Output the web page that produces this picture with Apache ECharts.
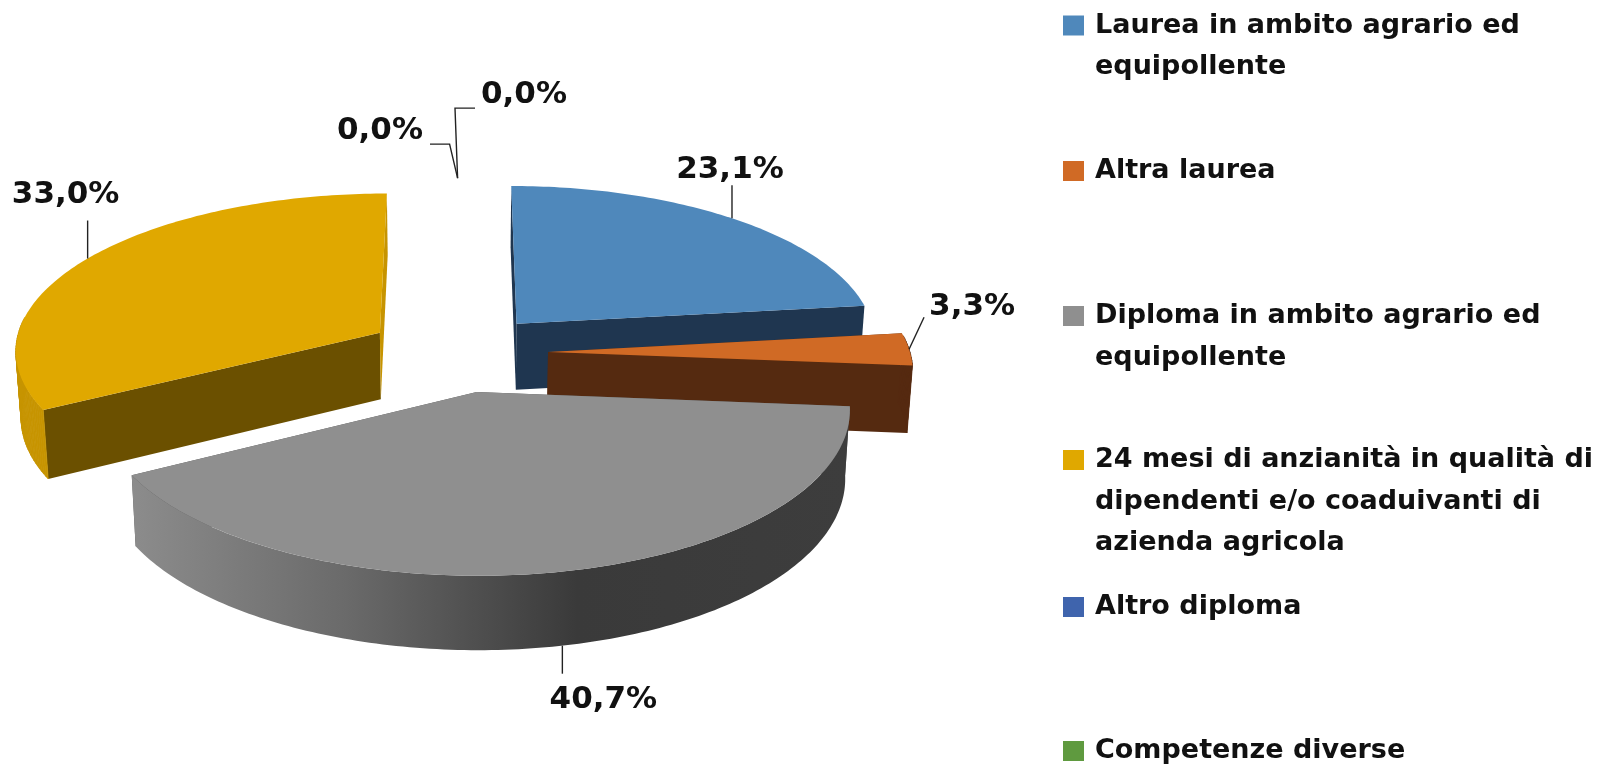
<!DOCTYPE html>
<html><head><meta charset="utf-8"><style>html,body{margin:0;padding:0;background:#fff}#c{width:1598px;height:766px}</style>
<script src="https://cdn.jsdelivr.net/npm/echarts@6/dist/echarts.min.js"></script></head>
<body><div id="c"></div>
<script>
const categories = ['Laurea in ambito agrario ed\nequipollente','Altra laurea','Diploma in ambito agrario ed\nequipollente','24 mesi di anzianità in qualità di\ndipendenti e/o coaduivanti di\nazienda agricola','Altro diploma','Competenze diverse'];
const values = [23.1,3.3,40.7,33.0,0.0,0.0];
const valueLabels = ['23,1%','3,3%','40,7%','33,0%','0,0%','0,0%'];
const topColors = ['#4f88bb','#d06a25','#8f8f8f','#e0a800','#3f64ad','#5f9a3f'];
const cutStartColors = ['#1f3650','#552a10','#555555','#6b5000','#223344','#223322'];
const cutEndColors = ['#1f3650','#552a10','#555555','#c79400','#223344','#223322'];
const wallColors = ['#3d6f9c','#552a10','#555555','#c79400','#334455','#335533'];
const drawOrder = [4,5,3,0,1,2];
const cx=457.6, cy=352.6, rx=362, rxLeft=366, ry=157, k=0.1, kDepth=0.08, depth=67, explode=0.25;
const total = values.reduce((a,b)=>a+b,0);
function project(X,Z,d){
  const w=1+k*Z, s=1-0.012*d;
  return [cx+(X<0?rxLeft:rx)*X/w*s, cy-ry*Z/w+depth*d/(1+kDepth*Z)];
}
const labelOff = [ // anchor depth, leader offsets, label centre offset
 {d:0,p:[[0,-33]],t:[-2,-48]},
 {d:0,p:[[15,-32]],t:[63,-42]},
 {d:1,p:[[0,28]],t:[41,54]},
 {d:0,p:[[0,-38]],t:[-22,-64]},
 {d:0,p:[[-8,-34],[-27.6,-34]],t:[-77.6,-47]},
 {d:0,p:[[-2.6,-70],[17.4,-70]],t:[66.4,-83]}
];
const acc=[];let s0=0;values.forEach(v=>{acc.push(s0);s0+=v;});
function renderSlice(i){return function(params,api){
 const a0=acc[i]/total*2*Math.PI,a1=(acc[i]+values[i])/total*2*Math.PI,m=(a0+a1)/2;
 const ex=explode*Math.sin(m),ez=explode*Math.cos(m);
 const P=(a,d)=>project(ex+Math.sin(a),ez+Math.cos(a),d);const tip=d=>project(ex,ez,d);
 const kids=[];
 if(values[i]>0){
  const n=Math.max(6,Math.round((a1-a0)*60));
  const arcT=[],arcB=[];
  for(let j=0;j<=n;j++){const a=a0+(a1-a0)*j/n;arcT.push(P(a,0));arcB.unshift(P(a,1));}
  kids.push({type:'polygon',shape:{points:[tip(0),P(a0,0),P(a0,1),tip(1)]},style:{fill:cutStartColors[i]}});
  kids.push({type:'polygon',shape:{points:[tip(0),P(a1,0),P(a1,1),tip(1)]},style:{fill:cutEndColors[i]}});
  if(i===2){
    kids.push({type:'polygon',shape:{points:arcT.concat(arcB)},style:{fill:new echarts.graphic.LinearGradient(0,0,1,0,[{offset:0,color:'#8c8c8c'},{offset:0.3,color:'#6a6a6a'},{offset:0.62,color:'#3a3a3a'},{offset:1,color:'#3d3d3d'}])}});
  } else {
    for(let j=0;j<n;j++){
      const b0=a0+(a1-a0)*j/n,b1=a0+(a1-a0)*(j+1)/n;
      if(Math.cos((b0+b1)/2)>0.1) continue;
      kids.push({type:'polygon',shape:{points:[P(b0,0),P(b1,0),P(b1,1),P(b0,1)]},style:{fill:wallColors[i],stroke:wallColors[i],lineWidth:0.8}});
    }
  }
  kids.push({type:'polygon',shape:{points:[tip(0)].concat(arcT)},style:{fill:topColors[i]}});
 }
 const L=labelOff[i];const A=project(ex+Math.sin(m),ez+Math.cos(m),L.d);
 const pts=[A].concat(L.p.map(o=>[A[0]+o[0],A[1]+o[1]]));
 kids.push({type:'polyline',shape:{points:pts},style:{stroke:'#222',lineWidth:1.4,fill:null}});
 kids.push({type:'text',style:{text:valueLabels[i],x:A[0]+L.t[0],y:A[1]+L.t[1],align:'center',verticalAlign:'middle',font:'bold 31px "DejaVu Sans"',fill:'#111'}});
 return {type:'group',children:kids};
};}
const legendY=[25.5,171,316,460,607,751];
const padded=i=>{const n=categories[i].split('\n').length;return '\n'.repeat(n-1)+categories[i];};
const chart=echarts.init(document.getElementById('c'),null,{renderer:'canvas'});
chart.setOption({animation:false,
 legend:categories.map((c,i)=>{const n=categories[i].split('\n').length;return {
  data:[c],orient:'vertical',left:1063,top:legendY[i]-(2*n-1)*41.5/2,padding:0,itemWidth:27,itemHeight:20,itemGap:0,selectedMode:false,
  icon:'path://M0,0H21V20H0Z M27,0H27',formatter:()=>padded(i),textStyle:{fontFamily:'"DejaVu Sans"',fontWeight:'bold',fontSize:27,lineHeight:41.5,color:'#111'}};}),
 series:drawOrder.map(i=>({type:'custom',name:categories[i],coordinateSystem:'none',data:[values[i]],renderItem:renderSlice(i),silent:true,itemStyle:{color:topColors[i]},z:2}))
});
</script></body></html>
